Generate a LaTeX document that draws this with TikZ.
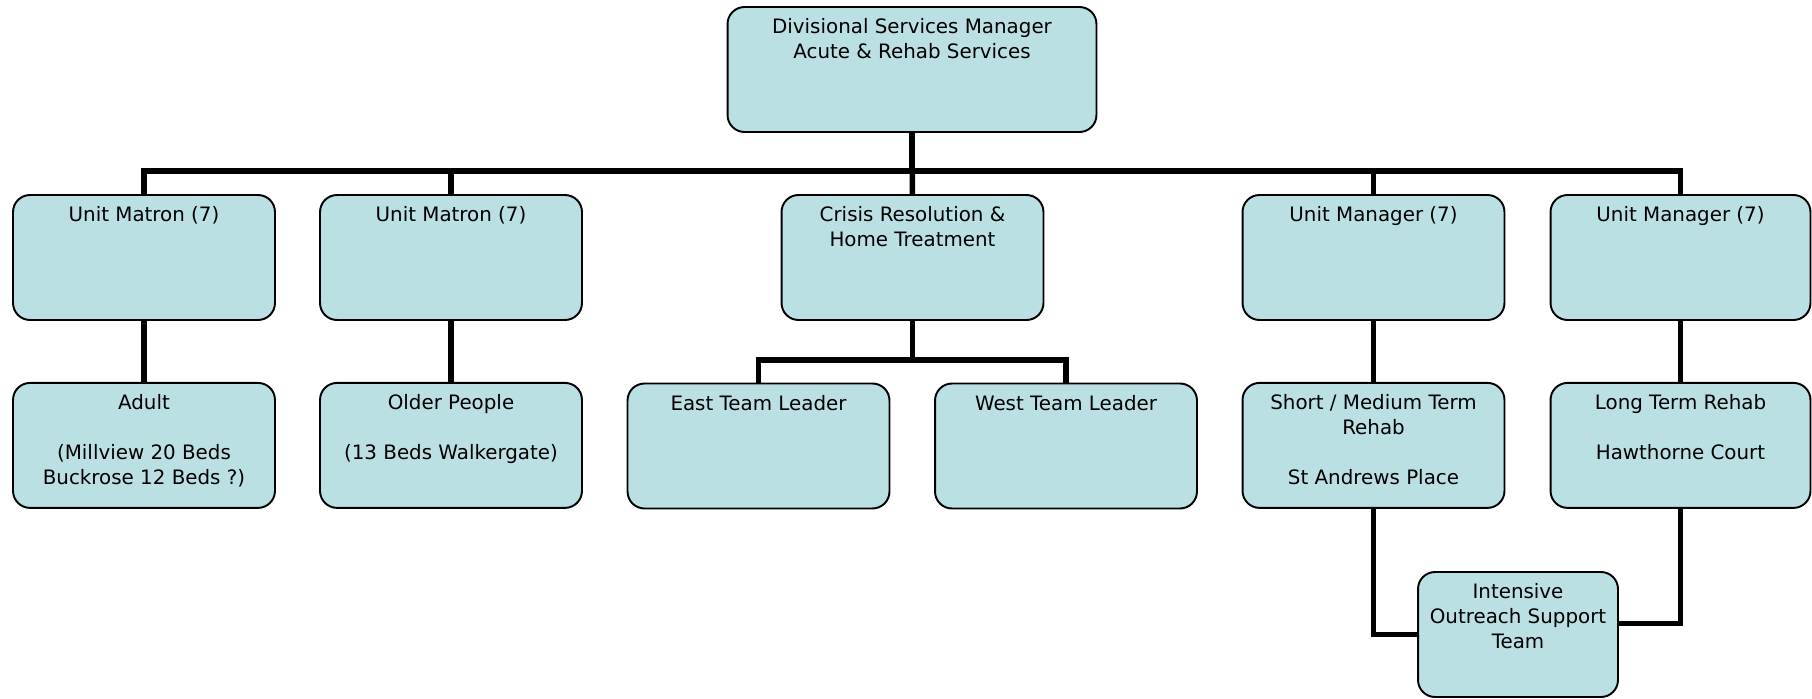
\documentclass[tikz,border=0pt]{standalone}
\usepackage{fontspec}
\setmainfont{DejaVu Sans}
\usetikzlibrary{positioning}
\definecolor{paleteal}{RGB}{187,224,227}
\tikzset{
unit/.style={draw, line width=1.1pt, rounded corners=0.34cm, fill=paleteal, minimum width=5.24cm, minimum height=2.5cm, inner sep=0pt}, % every box of the chart
caption/.style={anchor=north, align=center, inner sep=0pt, yshift=-0.25cm, font=\fontsize{11.3}{14.2}\selectfont}, % text sits at the top of a box
link/.style={line width=3.1pt}, % the heavy black lines
}

\begin{document}
\begin{tikzpicture}[x=0.02cm, y=-0.02cm]
        \useasboundingbox (0,0) rectangle (1812,699);

        \node[unit, minimum width=7.38cm, label={[caption]north:{Divisional Services Manager\\Acute \& Rehab Services}}] (dsm) at (912,69.5) {};

        \node[unit, label={[caption]north:{Unit Matron (7)}}] (matA) at (144,257.5) {};
        \node[unit, label={[caption]north:{Unit Matron (7)}}] (matB) at (451,257.5) {};
        \node[unit, label={[caption]north:{Crisis Resolution \&\\Home Treatment}}] (crisis) at (912.5,257.5) {};
        \node[unit, label={[caption]north:{Unit Manager (7)}}] (mgrA) at (1373.5,257.5) {};
        \node[unit, minimum width=5.2cm, label={[caption]north:{Unit Manager (7)}}] (mgrB) at (1680.5,257.5) {};

        \node[unit, below=1.22cm of matA, label={[caption]north:{Adult\\[14pt](Millview 20 Beds\\Buckrose 12 Beds ?)}}] (adult) {};
        \node[unit, below=1.22cm of matB, label={[caption]north:{Older People\\[14pt](13 Beds Walkergate)}}] (older) {};
        \node[unit, label={[caption]north:{East Team Leader}}] (east) at (758.5,446) {};
        \node[unit, label={[caption]north:{West Team Leader}}] (west) at (1066,446) {};
        \node[unit, below=1.22cm of mgrA, label={[caption]north:{Short / Medium Term\\Rehab\\[14pt]St Andrews Place}}] (short) {};
        \node[unit, minimum width=5.2cm, below=1.22cm of mgrB, label={[caption]north:{Long Term Rehab\\[14pt]Hawthorne Court}}] (long) {};

        \node[unit, minimum width=4cm, label={[caption]north:{Intensive\\Outreach Support\\Team}}] (ios) at (1518,634.5) {};

        \draw[link] (dsm.south) -- ++(0,38) -| (matA.north);
        \draw[link] (dsm.south) -- ++(0,38) -| (matB.north);
        \draw[link] (dsm.south) -- ++(0,38) -| (mgrA.north);
        \draw[link] (dsm.south) -- ++(0,38) -| (mgrB.north);
        \draw[link] (dsm) -- (crisis);

        \draw[link] (matA) -- (adult);
        \draw[link] (matB) -- (older);
        \draw[link] (crisis.south) -- ++(0,39) -| (east.north);
        \draw[link] (crisis.south) -- ++(0,39) -| (west.north);
        \draw[link] (mgrA) -- (short);
        \draw[link] (mgrB) -- (long);

        \draw[link] (short.south) |- (ios.west);
        \draw[link] (long.south) |- ([yshift=0.22cm]ios.east);
    \end{tikzpicture}
\end{document}
